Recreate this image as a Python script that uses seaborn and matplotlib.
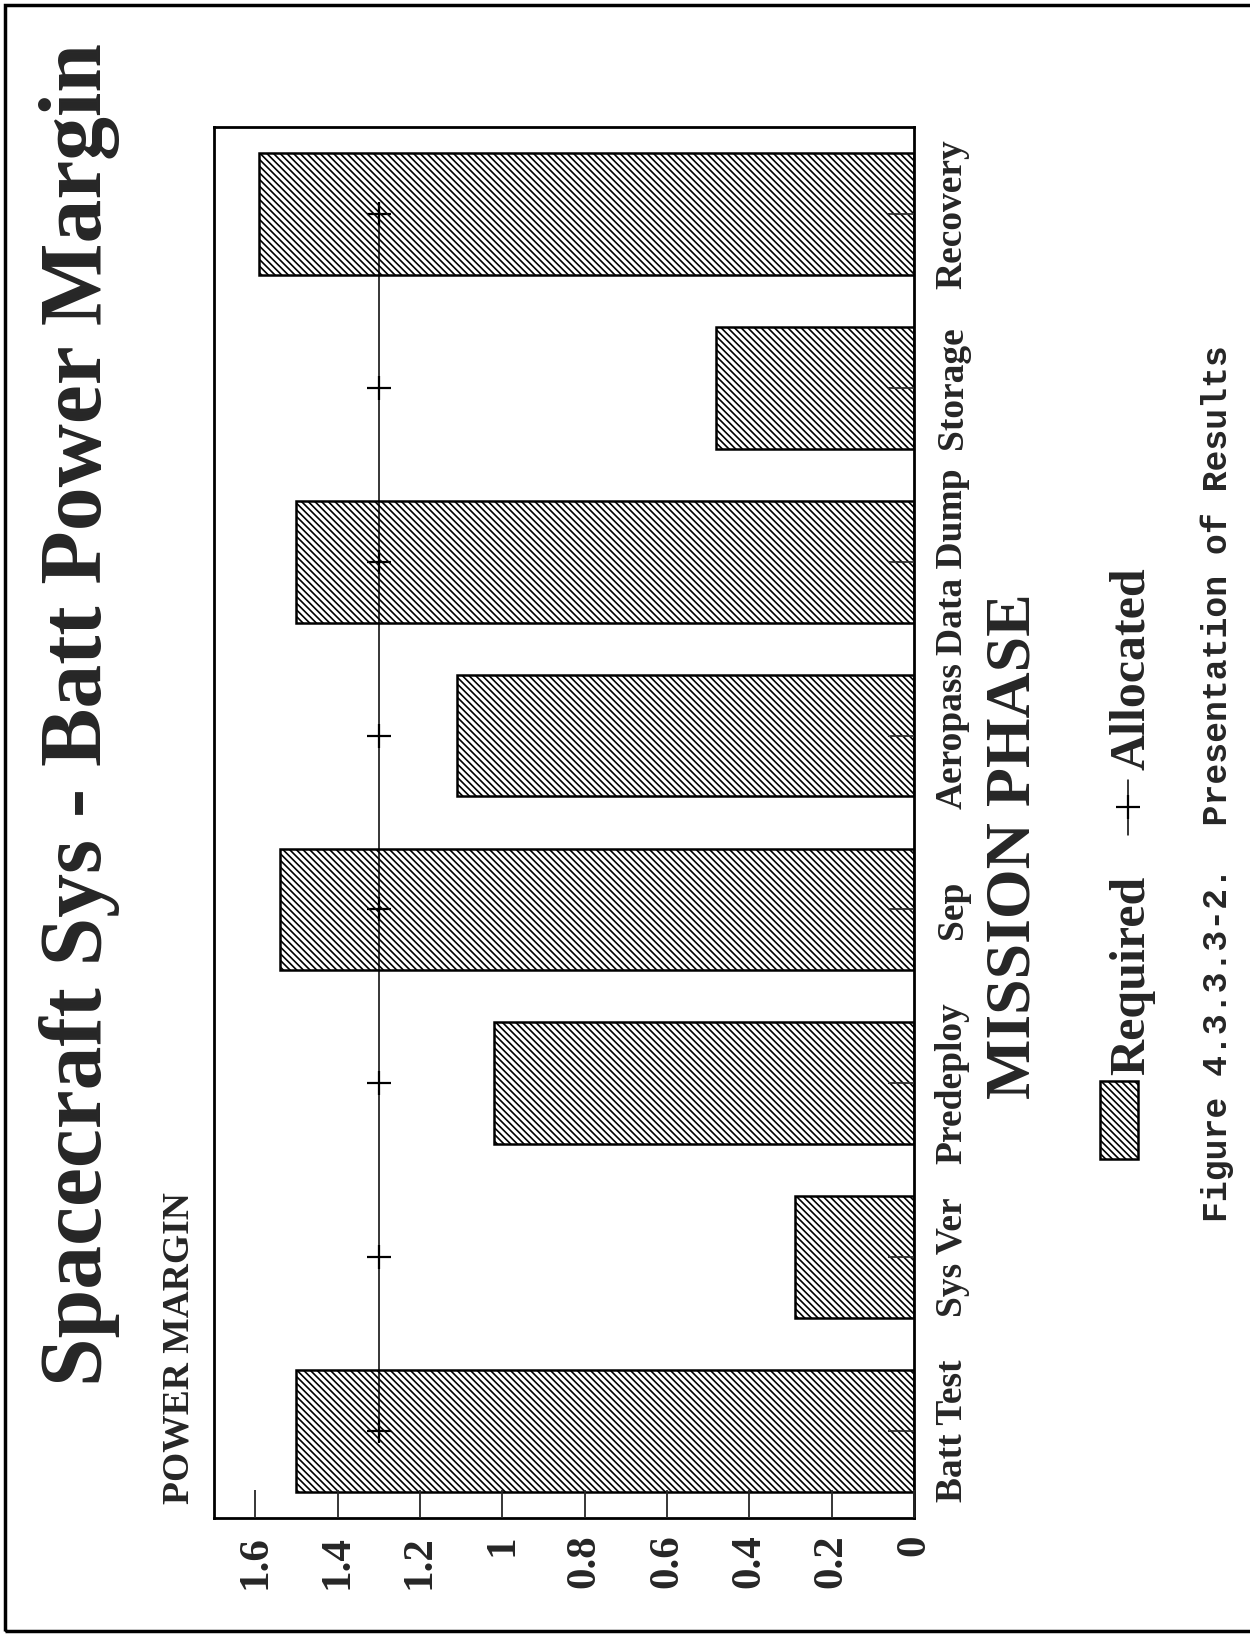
import pandas as pd
import matplotlib
matplotlib.use('Agg')
from matplotlib import pyplot as plt
from matplotlib.patches import Rectangle
from matplotlib.lines import Line2D
import seaborn as sns

sns.set_style('white')
plt.rcParams['font.family'] = ['Liberation Serif', 'DejaVu Serif']
plt.rcParams['hatch.linewidth'] = 1.2
plt.rcParams['hatch.color'] = 'black'

### data
phases = ['Batt Test', 'Sys Ver', 'Predeploy', 'Sep', 'Aeropass', 'Data Dump', 'Storage', 'Recovery']
required = [1.50, 0.29, 1.02, 1.54, 1.11, 1.50, 0.48, 1.59]
allocated = [1.3, 1.3, 1.3, 1.3, 1.3, 1.3, 1.3, 1.3]
value_ticks = [0, 0.2, 0.4, 0.6, 0.8, 1.0, 1.2, 1.4, 1.6]
value_labels = ['0', '0.2', '0.4', '0.6', '0.8', '1', '1.2', '1.4', '1.6']

df = pd.DataFrame({'phase': phases, 'required': required, 'allocated': allocated})

W, H = 1250, 1638
def fx(x):
    return x / W
def fy(y):
    return 1 - y / H

fig = plt.figure(figsize=(12.5, 16.38), dpi=100)
ax = fig.add_axes([fx(214), fy(1518), fx(914) - fx(214), fy(127) - fy(1518)])
ax.set_axisbelow(False)

hatch = '\\\\\\\\\\'
sns.barplot(data=df, x='required', y='phase', order=phases, orient='h', color='white',
            edgecolor='black', linewidth=1.8, width=0.7, hatch=hatch, saturation=1, ax=ax)
sns.pointplot(data=df, x='allocated', y='phase', order=phases, orient='h', color='black',
              markers='+', linestyles='-', errorbar=None, markersize=17, markeredgewidth=1.6,
              linewidth=1.1, ax=ax)

ax.set_xlim(1.7, 0)
ax.set_ylim(-0.5, 7.5)
ax.set_xlabel('')
ax.set_ylabel('')
for s in ax.spines.values():
    s.set_visible(True)
    s.set_linewidth(2)
    s.set_color('black')

ax.set_xticks(value_ticks)
ax.set_xticklabels(value_labels, fontsize=31, fontweight='bold', rotation=90)
ax.tick_params(axis='x', direction='in', length=20, width=1.3, pad=12, bottom=True)

ax.yaxis.tick_right()
ax.set_yticks(range(len(phases)))
ax.set_yticklabels(phases, fontsize=27, fontweight='bold', rotation=90)
ax.tick_params(axis='y', direction='in', length=19, width=1.2, pad=15, right=True, left=False)
for lab in ax.get_yticklabels():
    lab.set_va('center')
    lab.set_ha('left')
for lab in ax.get_xticklabels():
    lab.set_ha('center')
    lab.set_va('top')

### texts (page is turned, so everything reads bottom to top)
fig.text(fx(80), fy(715), 'Spacecraft Sys - Batt Power Margin', rotation=90, ha='center', va='center',
         fontsize=63, fontweight='bold')
fig.text(fx(179), fy(1504), 'POWER MARGIN', rotation=90, ha='center', va='bottom', fontsize=27,
         fontweight='bold')
fig.text(fx(1015), fy(846), 'MISSION PHASE', rotation=90, ha='center', va='center',
         fontsize=46, fontweight='bold')

### legend drawn by hand since it is turned too
fig.add_artist(Rectangle((fx(1100), fy(1159)), fx(1138) - fx(1100), fy(1081) - fy(1159),
                         transform=fig.transFigure, facecolor='white', edgecolor='black',
                         linewidth=1.8, hatch=hatch))
fig.text(fx(1132), fy(1075), 'Required', rotation=90, ha='center', va='bottom', fontsize=36, fontweight='bold')
fig.add_artist(Line2D([fx(1128), fx(1128)], [fy(835), fy(780)], transform=fig.transFigure,
                      color='black', linewidth=1.1))
fig.add_artist(Line2D([fx(1128)], [fy(807)], transform=fig.transFigure, color='black',
                      marker='+', markersize=17, markeredgewidth=1.6))
fig.text(fx(1132), fy(770), 'Allocated', rotation=90, ha='center', va='bottom', fontsize=36, fontweight='bold')

fig.text(fx(1217), fy(345), 'Figure 4.3.3.3-2.  Presentation of Results', rotation=90, ha='center', va='top',
         fontsize=25, fontweight='bold', family=['Liberation Mono', 'DejaVu Sans Mono'])

### page border
fig.add_artist(Rectangle((fx(5), fy(1631)), 1.2, fy(5) - fy(1631), transform=fig.transFigure,
                         fill=False, edgecolor='black', linewidth=2.5))

plt.savefig('out.png', dpi=100)
